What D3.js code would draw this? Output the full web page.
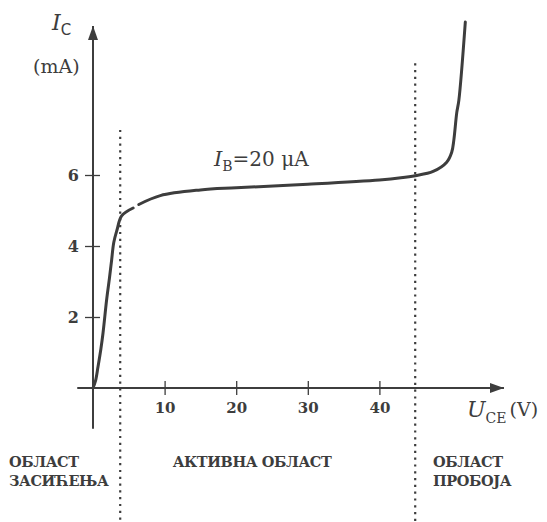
<!DOCTYPE html>
<html>
<head>
<meta charset="utf-8">
<script src="https://cdn.jsdelivr.net/npm/d3@7"></script>
<style>
  body { margin: 0; background: #fff; }
  svg { display: block; }
  text { fill: #3d3d3d; font-family: "DejaVu Serif", serif; }
</style>
</head>
<body>
<div id="wrapper"></div>
<script>
// Output characteristic, I_B = 20 uA
var uce = [0, 0.35, 0.7, 1.1, 1.4, 1.9, 2.3, 2.6, 2.9, 3.35, 4.0, 5.6, 6.4, 9.4, 15, 20, 30, 40, 43, 45, 47.5, 49.4, 50.1, 50.4, 50.8, 51.1, 52]
var ic = [0, 0.2, 0.6, 1.1, 1.55, 2.48, 3.1, 3.6, 4.1, 4.45, 4.85, 5.07, 5.17, 5.42, 5.58, 5.64, 5.74, 5.86, 5.92, 5.98, 6.1, 6.36, 6.64, 6.99, 7.75, 8.11, 10.31]
var gap = [5.6, 6.4]   // small break in the curve

var xTicks = [10, 20, 30, 40]
var yTicks = [2, 4, 6]

// region borders (U_CE) and the current where the dotted line begins
var borders = [3.8, 45]
var borderTops = [7.27, 9.15]

var regionLabels = [
  ["ОБЛАСТ", "ЗАСИЋЕЊА"],
  ["АКТИВНА ОБЛАСТ"],
  ["ОБЛАСТ", "ПРОБОЈА"]
]

var width = 547, height = 522
var ink = "#3d3d3d"

var svg = d3.select("#wrapper")
  .append("svg")
  .attr("width", width)
  .attr("height", height)

var x = d3.scaleLinear().domain([0, 50]).range([93, 451])
var y = d3.scaleLinear().domain([0, 10]).range([388, 33])

// arrow heads
var defs = svg.append("defs")
defs.append("marker")
  .attr("id", "arrow")
  .attr("viewBox", "0 0 14 10")
  .attr("refX", 14)
  .attr("refY", 5)
  .attr("markerWidth", 14)
  .attr("markerHeight", 10)
  .attr("markerUnits", "userSpaceOnUse")
  .attr("orient", "auto")
  .append("path")
  .attr("d", "M0,0 L14,5 L0,10 Z")
  .attr("fill", ink)

// axis lines
svg.append("line")
  .attr("x1", x(-2.2)).attr("x2", x(57.4))
  .attr("y1", y(0)).attr("y2", y(0))
  .attr("stroke", ink).attr("stroke-width", 2)
  .attr("marker-end", "url(#arrow)")

svg.append("line")
  .attr("x1", x(0)).attr("x2", x(0))
  .attr("y1", y(-1.15)).attr("y2", y(10.2))
  .attr("stroke", ink).attr("stroke-width", 2)
  .attr("marker-end", "url(#arrow)")

// ticks as small crosses
var xAxis = svg.append("g")
  .attr("transform", "translate(0," + y(0) + ")")
  .call(d3.axisBottom(x).tickValues(xTicks).tickSize(7))
xAxis.select(".domain").remove()
xAxis.selectAll(".tick line").attr("y1", -7).attr("stroke", ink).attr("stroke-width", 1.3)
xAxis.selectAll(".tick text")
  .attr("y", 25).attr("dy", 0)
  .style("font-family", "DejaVu Serif, serif")
  .style("font-size", "15px")
  .style("font-weight", "bold")
  .attr("fill", "#4a4a4a")

var yAxis = svg.append("g")
  .attr("transform", "translate(" + x(0) + ",0)")
  .call(d3.axisLeft(y).tickValues(yTicks).tickSize(8).tickPadding(6))
yAxis.select(".domain").remove()
yAxis.selectAll(".tick line").attr("x1", 7).attr("stroke", ink).attr("stroke-width", 1.3)
yAxis.selectAll(".tick text")
  .style("font-family", "DejaVu Serif, serif")
  .style("font-size", "16px")
  .style("font-weight", "bold")
  .attr("fill", "#4a4a4a")

// dotted region borders
svg.selectAll(".border")
  .data(borders)
  .enter()
  .append("line")
  .attr("class", "border")
  .attr("x1", d => x(d)).attr("x2", d => x(d))
  .attr("y1", (d, i) => y(borderTops[i]))
  .attr("y2", height)
  .attr("stroke", ink)
  .attr("stroke-width", 2.2)
  .attr("stroke-dasharray", "2.2,4.6")

// curve, split at the gap
var points = uce.map((u, i) => [u, ic[i]])
var segments = [
  points.filter(d => d[0] <= gap[0]),
  points.filter(d => d[0] >= gap[1])
]
var line = d3.line()
  .x(d => x(d[0]))
  .y(d => y(d[1]))
  .curve(d3.curveCatmullRom.alpha(0.5))

svg.selectAll(".curve")
  .data(segments)
  .enter()
  .append("path")
  .attr("class", "curve")
  .attr("d", line)
  .attr("fill", "none")
  .attr("stroke", ink)
  .attr("stroke-width", 3)
  .attr("stroke-linecap", "round")

// axis titles
var ic_t = svg.append("text").attr("x", 52).attr("y", 30)
ic_t.append("tspan").text("I")
  .style("font-style", "italic").style("font-size", "22px")
ic_t.append("tspan").text("C")
  .attr("dy", 5)
  .style("font-family", "DejaVu Sans, sans-serif").style("font-size", "15px")

svg.append("text")
  .attr("x", 33).attr("y", 73)
  .style("font-size", "19px")
  .text("(mA)")

var u_t = svg.append("text").attr("x", 467).attr("y", 417)
u_t.append("tspan").text("U")
  .style("font-style", "italic").style("font-size", "22px")
u_t.append("tspan").text("CE")
  .attr("dy", 6)
  .style("font-size", "14px")
u_t.append("tspan").text(" (V)")
  .attr("dy", -7)
  .attr("dx", -3)
  .style("font-size", "19px")

var ib = svg.append("text").attr("x", 214).attr("y", 166)
ib.append("tspan").text("I")
  .style("font-style", "italic").style("font-size", "21px")
ib.append("tspan").text("B")
  .attr("dy", 5).style("font-size", "14px")
ib.append("tspan").text("=20 μA")
  .attr("dy", -5).style("font-size", "20px")

// region names below the axis
var regionX = [9, 252, 433]
var regionAnchor = ["start", "middle", "start"]
regionLabels.forEach(function (lines, i) {
  var t = svg.append("text")
    .attr("x", regionX[i]).attr("y", 467)
    .attr("text-anchor", regionAnchor[i])
    .style("font-size", "14.5px")
    .style("font-weight", "bold")
    .style("letter-spacing", "-0.4px")
  lines.forEach(function (s, j) {
    t.append("tspan")
      .attr("x", regionX[i])
      .attr("dy", j === 0 ? 0 : 19)
      .text(s)
  })
})
</script>
</body>
</html>
